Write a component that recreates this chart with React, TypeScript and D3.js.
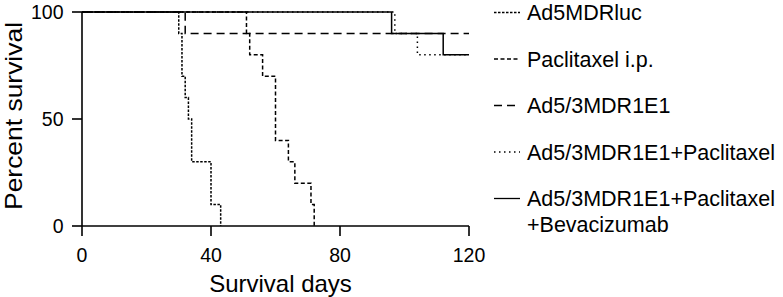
import React from "react";
import * as d3 from "d3";

// Kaplan–Meier survival data (day, percent survival)
const ad5MDRlucDays = [0, 30, 31, 32, 33, 34, 40, 43];
const ad5MDRlucSurv = [100, 90, 70, 60, 50, 30, 10, 0];

const paclitaxelDays = [0, 51, 52, 56, 60, 64, 66, 71, 72];
const paclitaxelSurv = [100, 90, 80, 70, 40, 30, 20, 10, 0];

const ad53Days = [0, 32, 120];
const ad53Surv = [100, 90, 90];

const ad53PacDays = [0, 97, 104, 120];
const ad53PacSurv = [100, 90, 80, 80];

const ad53PacBevDays = [0, 96, 112, 120];
const ad53PacBevSurv = [100, 90, 80, 80];

const seriesLabels = [
  ["Ad5MDRluc"],
  ["Paclitaxel i.p."],
  ["Ad5/3MDR1E1"],
  ["Ad5/3MDR1E1+Paclitaxel"],
  ["Ad5/3MDR1E1+Paclitaxel", "+Bevacizumab"],
];

const xTicks = [0, 40, 80, 120];
const yTicks = [0, 50, 100];
const xTitle = "Survival days";
const yTitle = "Percent survival";

const W = 783;
const H = 297;
const FONT = "'Liberation Sans', Arial, Helvetica, sans-serif";

const dashes = ["2.5,1.5", "4,2.5", "8,5", "1.5,3.5", null];

export default function App() {
  const x = d3.scaleLinear().domain([0, 120]).range([82, 469]);
  const y = d3.scaleLinear().domain([0, 100]).range([226, 12]);

  const series = [
    d3.zip(ad5MDRlucDays, ad5MDRlucSurv),
    d3.zip(paclitaxelDays, paclitaxelSurv),
    d3.zip(ad53Days, ad53Surv),
    d3.zip(ad53PacDays, ad53PacSurv),
    d3.zip(ad53PacBevDays, ad53PacBevSurv),
  ] as [number, number][][];

  const line = d3
    .line<[number, number]>()
    .x((d) => x(d[0]))
    .y((d) => y(d[1]))
    .curve(d3.curveStepAfter);

  const legendX0 = 494;
  const legendX1 = 520;
  const legendTextX = 527;
  const legendY0 = 12.5;
  const legendStep = 46.5;

  return (
    <svg
      width={W}
      height={H}
      style={{ position: "absolute", left: 0, top: 0, background: "#fff" }}
      fontFamily={FONT}
    >
      {/* series */}
      {series.map((s, i) => (
        <path
          key={i}
          d={line(s) || ""}
          fill="none"
          stroke="#000"
          strokeWidth={1.5}
          strokeDasharray={dashes[i] || undefined}
        />
      ))}

      {/* axes */}
      <line x1={x(0)} x2={x(0)} y1={y(100)} y2={y(0)} stroke="#000" strokeWidth={1.6} />
      <line x1={x(0)} x2={x(120)} y1={y(0)} y2={y(0)} stroke="#000" strokeWidth={1.6} />
      {yTicks.map((t) => (
        <g key={"y" + t}>
          <line x1={x(0) - 10} x2={x(0)} y1={y(t)} y2={y(t)} stroke="#000" strokeWidth={1.6} />
          <text x={x(0) - 18.5} y={y(t) + 6.8} fontSize={19.5} textAnchor="end" fill="#000">
            {t}
          </text>
        </g>
      ))}
      {xTicks.map((t) => (
        <g key={"x" + t}>
          <line x1={x(t)} x2={x(t)} y1={y(0)} y2={y(0) + 10} stroke="#000" strokeWidth={1.6} />
          <text x={x(t)} y={261.5} fontSize={19.5} textAnchor="middle" fill="#000">
            {t}
          </text>
        </g>
      ))}

      {/* axis titles */}
      <text x={280.5} y={291.5} fontSize={24} textAnchor="middle" fill="#000">
        {xTitle}
      </text>
      <text
        transform={`translate(21.5,116) rotate(-90)`}
        fontSize={24}
        textAnchor="middle"
        fill="#000"
        textLength={188}
        lengthAdjust="spacingAndGlyphs"
      >
        {yTitle}
      </text>

      {/* legend */}
      {seriesLabels.map((lab, i) => {
        const cy = legendY0 + i * legendStep;
        return (
          <g key={"lg" + i}>
            <line
              x1={legendX0}
              x2={legendX1}
              y1={cy}
              y2={cy}
              stroke="#000"
              strokeWidth={1.3}
              strokeDasharray={dashes[i] || undefined}
            />
            {lab.map((l, j) => (
              <text key={j} x={legendTextX} y={cy + 7.7 + j * 26} fontSize={21.5} fill="#000">
                {l}
              </text>
            ))}
          </g>
        );
      })}
    </svg>
  );
}
